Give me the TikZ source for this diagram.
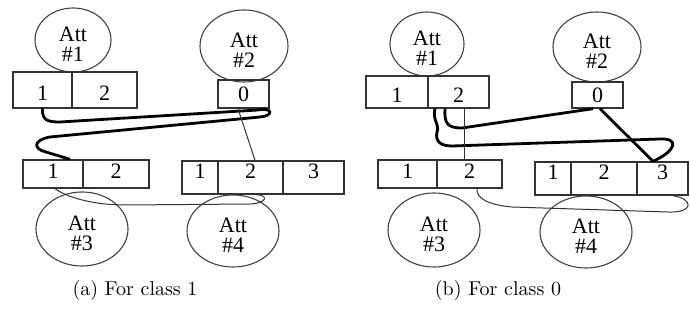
\documentclass[tikz,border=0pt]{standalone}
\usepackage{fontspec}
\newfontfamily\attfont{Liberation Serif}
\usetikzlibrary{shapes.geometric,calc}

% two-line attribute label, set a little below the ellipse centre
\newcommand\attlabel[1]{\raisebox{-3.5pt}[\height][\depth]{\begin{tabular}{@{}c@{}}Att\\\##1\end{tabular}}}

\begin{document}
\begin{tikzpicture}[x=0.5pt,y=-0.5pt,
  att/.style={ellipse,draw=black!75,line width=0.55pt,inner sep=0pt,
    font=\attfont\fontsize{11}{8.5}\selectfont},
  cell/.style={rectangle,draw=black!80,line width=0.7pt,inner sep=0pt,
    font=\attfont\fontsize{11}{13}\selectfont},
  rowtop/.style={cell,text height=10.3pt,text depth=0pt},
  rowzero/.style={cell,text height=7.3pt,text depth=0pt},
  rowlow/.style={cell,minimum height=14pt,text height=7.3pt,text depth=3pt},
  rowlong/.style={cell,minimum height=16.5pt,text height=7.3pt,text depth=6.5pt},
  strongpath/.style={draw=black,line width=1.4pt,line join=round},
  thinpath/.style={draw=black!80,line width=0.5pt},
  caption/.style={font=\fontsize{10}{12}\selectfont}]
\useasboundingbox (0,0) rectangle (690,320);

% ---------- (a) class 1 ----------
\node[att,minimum width=38pt,minimum height=32pt] (la1) at (73,40) {\attlabel{1}};
\node[att,minimum width=44pt,minimum height=36pt] (la2) at (244,46) {\attlabel{2}};
\node[att,minimum width=46pt,minimum height=37pt] (la3) at (82,229) {\attlabel{3}};
\node[att,minimum width=46pt,minimum height=36pt] (la4) at (233,231) {\attlabel{4}};

\node[rowtop,minimum width=29.5pt,minimum height=18pt] (la1a) at (42.5,90) {1};
\node[rowtop,minimum width=32.5pt,minimum height=18pt] (la1b) at (104.5,90) {2};
\node[rowzero,minimum width=25.5pt,minimum height=14pt] (la2a) at (243.5,94) {0};
\node[rowlow,minimum width=30pt] (la3a) at (53,174) {1};
\node[rowlow,minimum width=33pt] (la3b) at (116,174) {2};
\node[rowlong,minimum width=18pt] (la4a) at (200,177.5) {1};
\node[rowlong,minimum width=32.5pt] (la4b) at (250.5,177.5) {2};
\node[rowlong,minimum width=30.5pt] (la4c) at (313.5,177.5) {3};

\draw[strongpath] (la1a.south) .. controls (42,120) and (47,122) .. (60,122)
  -- (258,110) .. controls (273,107) and (274,116) .. (260,117)
  -- (50,137) .. controls (33,140) and (33,149) .. (46,152)
  -- ($(la3a.north)+(17,0)$);
\draw[thinpath] ($(la2a.south)+(-5.5,0)$) -- ($(la4b.north)+(4.5,0)$);
\draw[thinpath] ($(la3a.south)+(2,0)$) .. controls (68,198) and (95,205) .. (125,205)
  -- (250,204) .. controls (268,203) and (268,195) .. ($(la4b.south)+(6,0)$);

\node[caption] (capa) at (135,290) {(a) For class 1};

% ---------- (b) class 0 ----------
\node[att,minimum width=37pt,minimum height=32pt] (ra1) at (427,44) {\attlabel{1}};
\node[att,minimum width=44pt,minimum height=35pt] (ra2) at (597,47) {\attlabel{2}};
\node[att,minimum width=46pt,minimum height=37pt] (ra3) at (434,230) {\attlabel{3}};
\node[att,minimum width=46pt,minimum height=36pt] (ra4) at (586,232) {\attlabel{4}};

\node[rowtop,minimum width=31pt,minimum height=16pt] (ra1a) at (397,92) {1};
\node[rowtop,minimum width=30.5pt,minimum height=16pt] (ra1b) at (458.5,92) {2};
\node[rowzero,minimum width=25.5pt,minimum height=13pt] (ra2a) at (597.5,95) {0};
\node[rowlow,minimum width=29.5pt] (ra3a) at (407.5,174) {1};
\node[rowlow,minimum width=32.5pt] (ra3b) at (469.5,174) {2};
\node[rowlong,minimum width=18pt] (ra4a) at (553,178.5) {1};
\node[rowlong,minimum width=33pt] (ra4b) at (604,178.5) {2};
\node[rowlong,minimum width=25.5pt] (ra4c) at (662.5,178.5) {3};

\coordinate (rjoin) at ($(ra4c.north)+(-9.5,0)$);
\draw[strongpath] ($(ra1b.south)+(-13.5,0)$) .. controls (444,124) and (448,128) .. (462,128)
  -- ($(ra2a.south)+(-4.5,0)$);
\draw[strongpath] ($(ra1b.south)+(-23.5,0)$) .. controls (432,120) and (440,125) .. (437,132)
  .. controls (435,141) and (440,146) .. (452,146)
  -- (660,139) .. controls (680,138) and (676,151) .. (rjoin);
\draw[strongpath] ($(ra2a.south)+(2.5,0)$) -- (rjoin);
\draw[thinpath] ($(ra1b.south)+(5.5,0)$) -- ($(ra3b.north)+(-5.5,0)$);
\draw[thinpath] ($(ra3b.south)+(7.5,0)$) .. controls (476,199) and (490,205) .. (512,207)
  -- (668,212) .. controls (694,213) and (694,199) .. ($(ra4c.south)+(10.5,0)$);

\node[caption] (capb) at (498,290) {(b) For class 0};
\end{tikzpicture}
\end{document}
